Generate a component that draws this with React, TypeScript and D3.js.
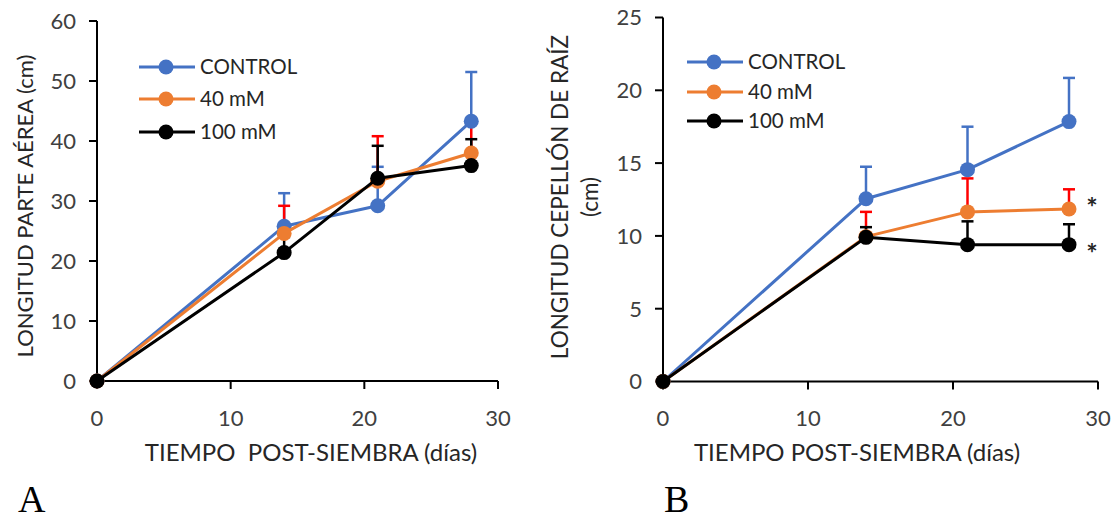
import React from "react";
import * as d3 from "d3";

const DAYS = [0, 14, 21, 28];
const SERIES_NAMES = ["CONTROL", "40 mM", "100 mM"];
const SERIES_COLORS = ["#4472C4", "#ED7D31", "#000000"];
const ERR_COLORS = ["#4472C4", "#FF0000", "#000000"];

const X_TICKS = [0, 10, 20, 30];
const A_Y_TICKS = [0, 10, 20, 30, 40, 50, 60];
const B_Y_TICKS = [0, 5, 10, 15, 20, 25];

// Panel A: shoot length (cm)
const A_CONTROL = [0, 25.8, 29.2, 43.3];
const A_CONTROL_ERR = [0, 5.5, 6.5, 8.2];
const A_40 = [0, 24.6, 33.3, 38.0];
const A_40_ERR = [0, 4.6, 7.5, 5.0];
const A_100 = [0, 21.4, 33.8, 35.9];
const A_100_ERR = [0, 2.6, 5.4, 4.4];

// Panel B: root ball length (cm)
const B_CONTROL = [0, 12.55, 14.55, 17.85];
const B_CONTROL_ERR = [0, 2.2, 2.95, 3.0];
const B_40 = [0, 9.95, 11.65, 11.85];
const B_40_ERR = [0, 1.7, 2.3, 1.35];
const B_100 = [0, 9.9, 9.4, 9.4];
const B_100_ERR = [0, 0.7, 1.6, 1.4];
// significance marks at day 28 (value level of each asterisk)
const B_STAR_LEVELS = [12.3, 9.2];

const FONT = "Lato, 'Open Sans', sans-serif";
const TICK_COLOR = "#404040";
const TITLE_COLOR = "#262626";

type PanelProps = {
  x0: number; x1: number; yTop: number; yBot: number;
  yMax: number; yTicks: number[];
  values: number[][]; errs: number[][];
  legendX: number; legendY: number[];
  yTitle: string[]; yTitleX: number; yTitleY: number; yTitleSize: number;
  xTitle: string; xTitleX: number;
  letter: string; letterX: number;
  stars?: number[];
};

function Panel(p: PanelProps) {
  const x = d3.scaleLinear().domain([0, 30]).range([p.x0, p.x1]);
  const y = d3.scaleLinear().domain([0, p.yMax]).range([p.yBot, p.yTop]);
  const line = d3.line<number>().x((_, i) => x(DAYS[i])).y((v) => y(v));
  return (
    <g>
      {/* axes */}
      <line x1={p.x0} x2={p.x0} y1={p.yTop} y2={p.yBot} stroke="#000" strokeWidth={2} />
      <line x1={p.x0} x2={p.x1} y1={p.yBot} y2={p.yBot} stroke="#000" strokeWidth={2} />
      {p.yTicks.map((t) => (
        <g key={"y" + t}>
          <line x1={p.x0 - 8} x2={p.x0} y1={y(t)} y2={y(t)} stroke="#000" strokeWidth={2} />
          <text x={p.x0 - 21} y={y(t)} dy="0.36em" textAnchor="end" fontSize={22} fill={TICK_COLOR} fontFamily={FONT}>{t}</text>
        </g>
      ))}
      {X_TICKS.map((t) => (
        <g key={"x" + t}>
          <line x1={x(t)} x2={x(t)} y1={p.yBot} y2={p.yBot + 8} stroke="#000" strokeWidth={2} />
          <text x={x(t)} y={p.yBot + 37} dy="0.36em" textAnchor="middle" fontSize={22} fill={TICK_COLOR} fontFamily={FONT}>{t}</text>
        </g>
      ))}
      {/* error bars */}
      {p.values.map((vals, s) =>
        vals.map((v, i) =>
          p.errs[s][i] > 0 ? (
            <g key={"e" + s + "-" + i} stroke={ERR_COLORS[s]} strokeWidth={2.5}>
              <line x1={x(DAYS[i])} x2={x(DAYS[i])} y1={y(v)} y2={y(v + p.errs[s][i])} />
              <line x1={x(DAYS[i]) - 6} x2={x(DAYS[i]) + 6} y1={y(v + p.errs[s][i])} y2={y(v + p.errs[s][i])} />
            </g>
          ) : null
        )
      )}
      {/* series */}
      {p.values.map((vals, s) => (
        <g key={"s" + s}>
          <path d={line(vals) || ""} fill="none" stroke={SERIES_COLORS[s]} strokeWidth={3} strokeLinejoin="round" />
          {vals.map((v, i) => (
            <circle key={i} cx={x(DAYS[i])} cy={y(v)} r={7.5} fill={SERIES_COLORS[s]} />
          ))}
        </g>
      ))}
      {/* legend */}
      {SERIES_NAMES.map((n, s) => (
        <g key={"l" + s}>
          <line x1={p.legendX} x2={p.legendX + 56} y1={p.legendY[s]} y2={p.legendY[s]} stroke={SERIES_COLORS[s]} strokeWidth={3} />
          <circle cx={p.legendX + 27} cy={p.legendY[s]} r={7.5} fill={SERIES_COLORS[s]} />
          <text x={p.legendX + 61} y={p.legendY[s]} dy="0.36em" fontSize={20.5} fill={TITLE_COLOR} fontFamily={FONT}>{n}</text>
        </g>
      ))}
      {/* stars */}
      {p.stars && p.stars.map((lv, k) => (
        <text key={"st" + k} x={x(28) + 23} y={y(lv) + 15} textAnchor="middle" fontSize={27} fontWeight="bold" fill="#262626" fontFamily={FONT}>*</text>
      ))}
      {/* titles */}
      <text transform={`translate(${p.yTitleX},${p.yTitleY}) rotate(-90)`} textAnchor="middle" fontSize={p.yTitleSize} fill={TITLE_COLOR} fontFamily={FONT}>
        {p.yTitle.map((t, i) => (
          <tspan key={i} x={0} dy={i === 0 ? "0.36em" : "1.35em"}>{t}</tspan>
        ))}
      </text>
      <text x={p.xTitleX} y={452} dy="0.36em" textAnchor="middle" fontSize={24} fill={TITLE_COLOR} fontFamily={FONT} style={{ whiteSpace: "pre" }}>{p.xTitle}</text>
      <text x={p.letterX} y={512} fontSize={38} fill="#000" fontFamily="'Liberation Serif', 'Times New Roman', serif">{p.letter}</text>
    </g>
  );
}

export default function App() {
  return (
    <svg width={1115} height={521} style={{ position: "absolute", left: 0, top: 0, background: "#fff" }}>
      <rect width={1115} height={521} fill="#fff" />
      <Panel
        x0={97} x1={498} yTop={21} yBot={381} yMax={60} yTicks={A_Y_TICKS}
        values={[A_CONTROL, A_40, A_100]} errs={[A_CONTROL_ERR, A_40_ERR, A_100_ERR]}
        legendX={139} legendY={[67, 99, 132]}
        yTitle={["LONGITUD PARTE AÉREA (cm)"]} yTitleX={25} yTitleY={206} yTitleSize={22}
        xTitle={"TIEMPO  POST-SIEMBRA (días)"} xTitleX={311}
        letter="A" letterX={18}
      />
      <Panel
        x0={663} x1={1098} yTop={17.5} yBot={381.5} yMax={25} yTicks={B_Y_TICKS}
        values={[B_CONTROL, B_40, B_100]} errs={[B_CONTROL_ERR, B_40_ERR, B_100_ERR]}
        legendX={687} legendY={[62, 92, 121]}
        yTitle={["LONGITUD CEPELLÓN DE RAÍZ", "(cm)"]} yTitleX={560} yTitleY={197} yTitleSize={22.5}
        xTitle={"TIEMPO POST-SIEMBRA (días)"} xTitleX={857}
        letter="B" letterX={664}
        stars={B_STAR_LEVELS}
      />
    </svg>
  );
}
